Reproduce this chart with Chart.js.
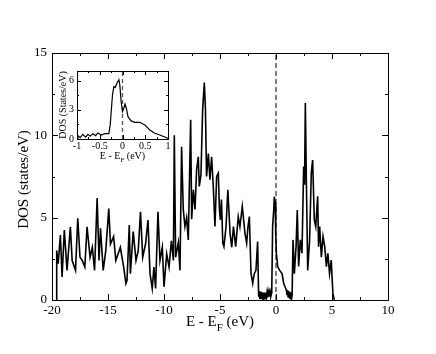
<!DOCTYPE html>
<html>
<head>
<meta charset="utf-8">
<script src="https://cdn.jsdelivr.net/npm/chart.js@4"></script>
<style>
html, body { margin: 0; padding: 0; background: #fff; }
#wrap { position: relative; width: 436px; height: 354px; }
#main { position: absolute; left: 0; top: 0; }
#inset { position: absolute; left: 40px; top: 62px; }
</style>
</head>
<body>
<div id="wrap">
<canvas id="main" width="436" height="354"></canvas>
<canvas id="inset" width="135" height="104"></canvas>
</div>
<script>
// main DOS curve, E - E_F (eV) vs states/eV
const mainEnergy = [
  -19.62, -19.58, -19.45, -19.25, -19.1, -18.9, -18.66, -18.36, -18.2, -17.9,
  -17.7, -17.5, -17.3, -17.07, -16.87, -16.6, -16.4, -16.2, -15.97, -15.8,
  -15.67, -15.43, -15.2, -14.93, -14.78, -14.5, -14.3, -14.1, -13.9, -13.6,
  -13.4, -13.3, -13.1, -13.0, -12.75, -12.5, -12.3, -12.1, -11.9, -11.64,
  -11.43, -11.25, -11.05, -10.9, -10.75, -10.54, -10.36, -10.15, -10.0, -9.76,
  -9.55, -9.34, -9.16, -9.08, -8.96, -8.72, -8.57, -8.43, -8.28, -8.13,
  -7.98, -7.83, -7.62, -7.53, -7.38, -7.23, -7.09, -6.94, -6.85, -6.7,
  -6.55, -6.4, -6.3, -6.2, -6.04, -5.9, -5.75, -5.6, -5.45, -5.3,
  -5.15, -5.05, -4.97, -4.87, -4.75, -4.65, -4.46, -4.3, -4.1, -3.95,
  -3.8, -3.6, -3.37, -3.22, -3.01, -2.77, -2.62, -2.5, -2.38, -2.23,
  -2.08, -1.94, -1.79, -1.64, -1.55, -1.5, -1.45, -1.4, -1.35, -1.3,
  -1.25, -1.2, -1.15, -1.1, -1.05, -1.0, -0.95, -0.9, -0.85, -0.8,
  -0.75, -0.7, -0.65, -0.6, -0.55, -0.5, -0.45, -0.38, -0.3, -0.2,
  -0.15, -0.08, -0.02, 0.03, 0.15, 0.33, 0.54, 0.69, 0.93, 0.98,
  1.03, 1.08, 1.13, 1.18, 1.23, 1.28, 1.33, 1.38, 1.44, 1.52,
  1.64, 1.79, 1.9, 2.02, 2.17, 2.32, 2.47, 2.55, 2.62, 2.71,
  2.83, 3.0, 3.15, 3.27, 3.42, 3.55, 3.72, 3.8, 3.9, 4.05,
  4.2, 4.35, 4.5, 4.63, 4.78, 4.93, 5.08, 5.2
];
const mainDos = [
  0, 3.0, 2.2, 3.95, 1.4, 4.25, 1.8, 4.45, 2.4, 1.8,
  4.96, 2.6, 2.4, 2.0, 4.45, 2.6, 3.2, 1.8, 6.2, 2.4,
  4.35, 1.8, 3.0, 5.55, 3.4, 3.85, 2.4, 2.8, 3.2, 2.0,
  1.0, 1.2, 4.55, 1.6, 4.15, 2.4, 3.0, 5.36, 2.6, 3.44,
  4.86, 1.6, 0.7, 2.0, 0.7, 5.36, 2.4, 3.2, 0.8, 2.8,
  2.0, 3.6, 2.4, 10.0, 2.6, 3.5, 1.8, 9.3, 5.5, 4.46,
  5.0, 3.65, 10.95, 4.9, 6.7, 5.5, 7.9, 8.7, 6.9, 7.6,
  11.56, 13.2, 11.6, 7.5, 8.9, 7.3, 8.7, 6.9, 4.46, 7.5,
  7.7, 5.5, 4.87, 6.1, 3.45, 3.24, 4.46, 6.7, 4.05, 3.2,
  4.46, 3.24, 5.07, 4.46, 5.68, 4.05, 3.45, 4.46, 5.07, 1.62,
  1.01, 1.6, 1.8, 3.55, 0.2, 0.55, 0.05, 0.5, 0.05, 0.5,
  0.1, 0.45, 0.05, 0.45, 0.1, 0.45, 0.1, 0.45, 0.15, 0.45,
  0.15, 0.45, 0.2, 0.45, 0.2, 0.45, 0.25, 0.45, 4.5, 5.5,
  6.28, 5.9, 4.0, 2.84, 2.03, 1.8, 1.6, 1.0, 0.6, 0.3,
  0.6, 0.2, 0.55, 0.15, 0.5, 0.1, 0.45, 0.05, 0.3, 3.65,
  1.6, 3.24, 5.47, 2.03, 3.65, 2.84, 8.1, 7.0, 11.96, 7.3,
  1.8, 3.65, 7.7, 8.5, 4.87, 4.46, 6.3, 3.24, 4.46, 2.6,
  3.85, 3.24, 2.03, 2.84, 1.6, 2.43, 0.4, 0
];

// inset: zoom around the Fermi level
const insetEnergy = [
  -1.0, -0.98, -0.93, -0.87, -0.81, -0.76, -0.71, -0.65, -0.59, -0.54,
  -0.47, -0.39, -0.3, -0.27, -0.22, -0.19, -0.16, -0.12, -0.08, -0.06,
  -0.03, 0.0, 0.03, 0.055, 0.085, 0.12, 0.19, 0.27, 0.38, 0.49,
  0.6, 0.71, 0.82, 0.93, 1.0
];
const insetDos = [
  0.0, 0.35, 0.14, 0.48, 0.2, 0.48, 0.28, 0.55, 0.35, 0.62,
  0.41, 0.55, 0.55, 1.45, 4.55, 5.4, 5.3, 5.76, 6.1, 5.6,
  3.86, 2.83, 3.17, 3.6, 3.17, 2.3, 1.86, 1.72, 1.72, 1.45,
  0.93, 0.59, 0.41, 0.2, 0.07
];

const mainXTicks = [-20, -15, -10, -5, 0, 5, 10];
const mainYTicks = [0, 5, 10, 15];
const insetXTicks = [-1, -0.5, 0, 0.5, 1];
const insetYTicks = [0, 3, 6];

const SERIF = "'Liberation Serif', 'DejaVu Serif', serif";

function toPoints(xs, ys) {
    return xs.map(function (x, i) { return { x: x, y: ys[i] }; });
}

// closed frame with inward ticks on all four sides
const framePlugin = {
    id: "frame",
    afterDraw(chart, args, opts) {
        const ctx = chart.ctx;
        const a = chart.chartArea;
        const xs = chart.scales.x;
        const ys = chart.scales.y;
        ctx.save();
        ctx.strokeStyle = "#000";
        ctx.lineWidth = 1;
        ctx.strokeRect(Math.round(a.left) + 0.5, Math.round(a.top) + 0.5,
            Math.round(a.right - a.left), Math.round(a.bottom - a.top));
        ctx.beginPath();
        function marks(min, max, major, minor, cb) {
            const n = Math.round((max - min) / minor);
            for (let k = 1; k < n; k++) {
                const v = min + k * minor;
                const r = v / major;
                cb(v, Math.abs(r - Math.round(r)) < 1e-6 ? opts.major : opts.minor);
            }
        }
        marks(xs.min, xs.max, opts.xMajor, opts.xMinor, function (v, len) {
            const px = Math.round(xs.getPixelForValue(v)) + 0.5;
            ctx.moveTo(px, a.bottom); ctx.lineTo(px, a.bottom - len);
            ctx.moveTo(px, a.top); ctx.lineTo(px, a.top + len);
        });
        marks(ys.min, ys.max, opts.yMajor, opts.yMinor, function (v, len) {
            const py = Math.round(ys.getPixelForValue(v)) + 0.5;
            ctx.moveTo(a.left, py); ctx.lineTo(a.left + len, py);
            ctx.moveTo(a.right, py); ctx.lineTo(a.right - len, py);
        });
        ctx.stroke();
        ctx.restore();
    }
};

// axis titles, with the F subscript on E_F
const titlePlugin = {
    id: "titles",
    afterDraw(chart, args, opts) {
        const ctx = chart.ctx;
        const a = chart.chartArea;
        ctx.save();
        ctx.fillStyle = "#000";
        ctx.font = opts.size + "px " + SERIF;
        ctx.textBaseline = "alphabetic";

        // y title, rotated
        ctx.save();
        ctx.translate(opts.yX, (a.top + a.bottom) / 2 + opts.yShift);
        ctx.rotate(-Math.PI / 2);
        ctx.textAlign = "center";
        ctx.fillText(opts.yText, 0, 0);
        ctx.restore();

        // x title: "E - E" + sub F + " (eV)"
        const subSize = Math.round(opts.size * 0.72);
        const p1 = "E - E";
        const p3 = " (eV)";
        ctx.font = opts.size + "px " + SERIF;
        const w1 = ctx.measureText(p1).width;
        const w3 = ctx.measureText(p3).width;
        ctx.font = subSize + "px " + SERIF;
        const w2 = ctx.measureText("F").width;
        let x0 = (a.left + a.right) / 2 - (w1 + w2 + w3) / 2;
        ctx.textAlign = "left";
        ctx.font = opts.size + "px " + SERIF;
        ctx.fillText(p1, x0, opts.xY);
        ctx.font = subSize + "px " + SERIF;
        ctx.fillText("F", x0 + w1, opts.xY + opts.size * 0.3);
        ctx.font = opts.size + "px " + SERIF;
        ctx.fillText(p3, x0 + w1 + w2, opts.xY);
        ctx.restore();
    }
};

const whiteBg = {
    id: "whiteBg",
    beforeDraw(chart) {
        const ctx = chart.ctx;
        ctx.save();
        ctx.fillStyle = "#fff";
        ctx.fillRect(0, 0, chart.width, chart.height);
        ctx.restore();
    }
};

function fmt(v) {
    return String(Math.round(v * 100) / 100);
}

function makeChart(id, cfg) {
    return new Chart(document.getElementById(id), {
        type: "scatter",
        data: {
            datasets: [
                {
                    data: toPoints(cfg.energy, cfg.dos),
                    showLine: true,
                    borderColor: "#000",
                    borderWidth: cfg.lineWidth,
                    pointRadius: 0,
                    tension: 0
                },
                {
                    data: [{ x: 0, y: cfg.yMin }, { x: 0, y: cfg.yMax }],
                    showLine: true,
                    borderColor: "#555",
                    borderWidth: cfg.dashWidth,
                    borderDash: cfg.dash,
                    pointRadius: 0
                }
            ]
        },
        options: {
            responsive: false,
            animation: false,
            layout: { padding: cfg.padding },
            plugins: {
                legend: { display: false },
                tooltip: { enabled: false },
                frame: cfg.frame,
                titles: cfg.titles
            },
            scales: {
                x: {
                    type: "linear",
                    min: cfg.xMin,
                    max: cfg.xMax,
                    grid: { display: false, drawTicks: false },
                    border: { display: false },
                    afterBuildTicks: function (s) { s.ticks = cfg.xTicks.map(function (v) { return { value: v }; }); },
                    afterFit: function (s) { s.height = cfg.xHeight; },
                    ticks: {
                        color: "#000",
                        padding: cfg.xPad,
                        maxRotation: 0,
                        autoSkip: false,
                        font: { family: SERIF, size: cfg.tickSize },
                        callback: fmt
                    }
                },
                y: {
                    type: "linear",
                    min: cfg.yMin,
                    max: cfg.yMax,
                    grid: { display: false, drawTicks: false },
                    border: { display: false },
                    afterBuildTicks: function (s) { s.ticks = cfg.yTicks.map(function (v) { return { value: v }; }); },
                    afterFit: function (s) { s.width = cfg.yWidth; },
                    ticks: {
                        color: "#000",
                        padding: cfg.yPad,
                        autoSkip: false,
                        font: { family: SERIF, size: cfg.tickSize },
                        callback: fmt
                    }
                }
            }
        },
        plugins: cfg.bg ? [whiteBg, framePlugin, titlePlugin] : [framePlugin, titlePlugin]
    });
}

makeChart("main", {
    energy: mainEnergy, dos: mainDos,
    xMin: -20, xMax: 10, yMin: 0, yMax: 15,
    xTicks: mainXTicks, yTicks: mainYTicks,
    lineWidth: 1.6, dashWidth: 1.5, dash: [5, 3],
    padding: { left: 0, top: 53, right: 48, bottom: 0 },
    xHeight: 54, yWidth: 52, xPad: 3, yPad: 5, tickSize: 13,
    bg: true,
    frame: { xMajor: 5, xMinor: 2.5, yMajor: 5, yMinor: 2.5, major: 6, minor: 3 },
    titles: { size: 15, yText: "DOS (states/eV)", yX: 28, yShift: 3, xY: 326 }
});

makeChart("inset", {
    energy: insetEnergy, dos: insetDos,
    xMin: -1, xMax: 1, yMin: 0, yMax: 7,
    xTicks: insetXTicks, yTicks: insetYTicks,
    lineWidth: 1.2, dashWidth: 1.3, dash: [4, 3],
    padding: { left: 0, top: 8, right: 7, bottom: 0 },
    xHeight: 27, yWidth: 37, xPad: 1, yPad: 3, tickSize: 10,
    bg: false,
    frame: { xMajor: 0.5, xMinor: 0.25, yMajor: 3, yMinor: 1.5, major: 4, minor: 2 },
    titles: { size: 10, yText: "DOS (States/eV)", yX: 26, yShift: 0, xY: 97 }
});
</script>
</body>
</html>
